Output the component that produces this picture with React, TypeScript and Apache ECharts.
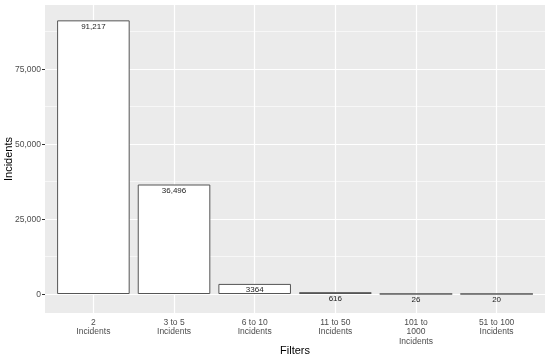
import React, { useEffect, useRef } from "react";
import * as echarts from "echarts";

const categories = [
  "2\nIncidents",
  "3 to 5\nIncidents",
  "6 to 10\nIncidents",
  "11 to 50\nIncidents",
  "101 to\n1000\nIncidents",
  "51 to 100\nIncidents",
];
const values = [91217, 36496, 3364, 616, 26, 20];
const valueLabels = ["91,217", "36,496", "3364", "616", "26", "20"];
const yTicks = [0, 25000, 50000, 75000];
const yMinorLines = [12500, 37500, 62500, 87500];
const yMin = -6333;
const yMax = 96333;

const FONT = "'Liberation Sans', Arial, sans-serif";

export default function App() {
  const ref = useRef<HTMLDivElement>(null);
  useEffect(() => {
    if (!ref.current) return;
    const chart = echarts.init(ref.current, null, { renderer: "svg" });
    const panelLeft = 45;
    const panelRight = 545;
    const unit = (panelRight - panelLeft) / (categories.length - 1 + 1.2);
    const innerLeft = panelLeft + 0.6 * unit - unit / 2;
    const innerRight = panelRight - 0.6 * unit + unit / 2;
    chart.setOption({
      animation: false,
      textStyle: { fontFamily: FONT },
      grid: [
        {
          left: panelLeft,
          right: 550 - panelRight,
          top: 5,
          bottom: 45,
          show: true,
          backgroundColor: "#ebebeb",
          borderWidth: 0,
          outerBoundsMode: "none",
          containLabel: false,
        },
        {
          left: innerLeft,
          right: 550 - innerRight,
          top: 5,
          bottom: 45,
          outerBoundsMode: "none",
          containLabel: false,
        },
      ],
      xAxis: [
        { type: "value", gridIndex: 0, min: 0, max: 1, show: false },
        {
          type: "category",
          gridIndex: 1,
          data: categories,
          axisLine: { show: false },
          axisTick: {
            show: true,
            alignWithLabel: true,
            length: 3,
            lineStyle: { color: "#333333", width: 1 },
          },
          axisLabel: {
            color: "#4d4d4d",
            fontSize: 8.5,
            lineHeight: 9.5,
            margin: 4,
            interval: 0,
            fontFamily: FONT,
          },
          splitLine: { show: false },
          name: "Filters",
          nameLocation: "middle",
          nameGap: 31,
          nameMoveOverlap: false,
          nameTextStyle: { color: "#000000", fontSize: 11, fontFamily: FONT },
        },
      ],
      yAxis: [
        {
          type: "value",
          gridIndex: 0,
          min: yMin,
          max: yMax,
          axisLine: { show: false },
          splitLine: { show: false },
          axisTick: {
            show: true,
            customValues: yTicks,
            length: 3,
            lineStyle: { color: "#333333", width: 1 },
          },
          axisLabel: {
            customValues: yTicks,
            color: "#4d4d4d",
            fontSize: 8.5,
            margin: 4,
            fontFamily: FONT,
            formatter: (v: number) => v.toLocaleString("en-US"),
          },
          name: "Incidents",
          nameLocation: "middle",
          nameGap: 32,
          nameMoveOverlap: false,
          nameTextStyle: { color: "#000000", fontSize: 11, fontFamily: FONT },
        },
        {
          type: "value",
          gridIndex: 1,
          min: yMin,
          max: yMax,
          show: false,
        },
      ],
      series: [
        {
          type: "line",
          xAxisIndex: 0,
          yAxisIndex: 0,
          data: [[0, 0]],
          showSymbol: false,
          lineStyle: { opacity: 0 },
          silent: true,
          z: 1,
          markLine: {
            silent: true,
            symbol: "none",
            label: { show: false },
            z: 1,
            data: [
              ...yMinorLines.map((y) => ({
                yAxis: y,
                lineStyle: { color: "#ffffff", width: 0.6, type: "solid" },
              })),
              ...yTicks.map((y) => ({
                yAxis: y,
                lineStyle: { color: "#ffffff", width: 1.2, type: "solid" },
              })),
            ],
          },
        },
        {
          type: "bar",
          xAxisIndex: 1,
          yAxisIndex: 1,
          data: values,
          barCategoryGap: "10%",
          z: 5,
          itemStyle: { color: "#ffffff", borderColor: "#555555", borderWidth: 1 },
          label: {
            show: true,
            position: "insideTop",
            distance: 2,
            color: "#222222",
            fontSize: 8,
            fontFamily: FONT,
            formatter: (p: any) => valueLabels[p.dataIndex],
          },
          markLine: {
            silent: true,
            symbol: "none",
            label: { show: false },
            z: 2,
            lineStyle: { color: "#ffffff", width: 1.2, type: "solid" },
            data: categories.map((c) => ({ xAxis: c })),
          },
        },
      ],
    });
    return () => chart.dispose();
  }, []);
  return (
    <div
      ref={ref}
      style={{ position: "fixed", left: 0, top: 0, width: 550, height: 358 }}
    />
  );
}
